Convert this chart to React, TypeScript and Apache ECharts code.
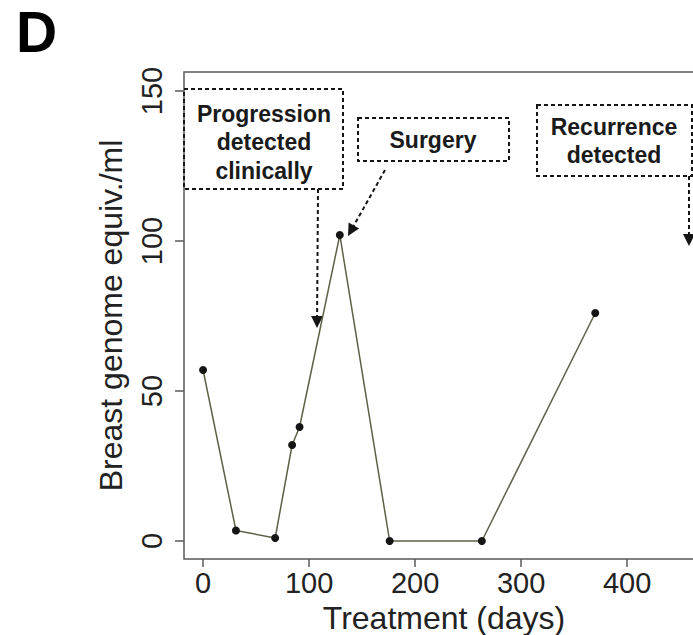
import React, { useEffect, useRef } from "react";
import * as echarts from "echarts";

const days = [0, 31, 68, 84, 91, 129, 176, 263, 370];
const genomeEquiv = [57, 3.5, 1, 32, 38, 102, 0, 0, 76];
const xTicks = [0, 100, 200, 300, 400];
const yTicks = [0, 50, 100, 150];
const xTitle = "Treatment (days)";
const yTitle = "Breast genome equiv./ml";
const panelLabel = "D";
const noteProgression = "Progression\ndetected\nclinically";
const noteSurgery = "Surgery";
const noteRecurrence = "Recurrence\ndetected";

const FONT = "'Liberation Sans', Arial, Helvetica, sans-serif";
const DASH = { stroke: "#151515", lineWidth: 2, lineDash: [4, 3], fill: null } as any;

function arrowHead(tip: [number, number], from: [number, number], len = 12, half = 6) {
  const dx = tip[0] - from[0];
  const dy = tip[1] - from[1];
  const l = Math.hypot(dx, dy);
  const ux = dx / l, uy = dy / l;
  const bx = tip[0] - ux * len, by = tip[1] - uy * len;
  const nx = -uy, ny = ux;
  return {
    type: "polygon",
    shape: { points: [tip, [bx + nx * half, by + ny * half], [bx - nx * half, by - ny * half]] },
    style: { fill: "#151515" },
  };
}

function arrow(from: [number, number], tip: [number, number]) {
  const dx = tip[0] - from[0];
  const dy = tip[1] - from[1];
  const l = Math.hypot(dx, dy);
  const end: [number, number] = [tip[0] - (dx / l) * 10, tip[1] - (dy / l) * 10];
  return [
    { type: "line", shape: { x1: from[0], y1: from[1], x2: end[0], y2: end[1] }, style: DASH },
    arrowHead(tip, from),
  ];
}

export default function App() {
  const ref = useRef<HTMLDivElement>(null);
  useEffect(() => {
    document.body.style.margin = "0";
    const chart = echarts.init(ref.current!, null, { renderer: "svg" });
    const noteText = (text: string, x: number, y: number) => ({
      type: "text",
      x,
      y,
      style: {
        text,
        fill: "#1a1a1a",
        fontSize: 23,
        fontWeight: "bold",
        fontFamily: FONT,
        align: "center",
        verticalAlign: "middle",
        lineHeight: 28.5,
      },
    });
    chart.setOption({
      animation: false,
      backgroundColor: "#ffffff",
      grid: {
        left: 184,
        top: 72,
        width: 520,
        height: 487,
        show: true,
        borderColor: "#5a5a5a",
        borderWidth: 1.5,
        backgroundColor: "transparent",
        containLabel: false,
        outerBoundsMode: "none",
      },
      xAxis: {
        type: "value",
        min: -18,
        max: -18 + 520 / 1.06,
        splitLine: { show: false },
        axisLine: { show: false, onZero: false },
        axisTick: { show: true, inside: false, customValues: xTicks, length: 8, lineStyle: { color: "#5a5a5a", width: 1.5 } },
        axisLabel: {
          customValues: xTicks,
          fontSize: 29,
          fontFamily: FONT,
          color: "#222",
          margin: 9,
        },
        name: xTitle,
        nameLocation: "middle",
        nameGap: 42,
        nameTextStyle: { fontSize: 32, fontFamily: FONT, color: "#222" },
      },
      yAxis: {
        type: "value",
        min: -6,
        max: -6 + 487 / 3,
        splitLine: { show: false },
        axisLine: { show: false, onZero: false },
        axisTick: { show: true, inside: false, customValues: yTicks, length: 9, lineStyle: { color: "#5a5a5a", width: 1.5 } },
        axisLabel: {
          customValues: yTicks,
          fontSize: 29,
          fontFamily: FONT,
          color: "#222",
          rotate: 90,
          margin: 18,
        },
        name: yTitle,
        nameLocation: "middle",
        nameRotate: 90,
        nameGap: 57,
        nameTextStyle: { fontSize: 32, fontFamily: FONT, color: "#222" },
      },
      series: [
        {
          type: "line",
          data: days.map((d, i) => [d, genomeEquiv[i]]),
          symbol: "circle",
          symbolSize: 8,
          itemStyle: { color: "#151515" },
          lineStyle: { color: "#606048", width: 1.5 },
          z: 3,
        },
      ],
      graphic: [
        {
          type: "text",
          x: 16,
          y: 32,
          style: {
            text: panelLabel,
            fill: "#000",
            fontSize: 57,
            fontWeight: "bold",
            fontFamily: FONT,
            align: "left",
            verticalAlign: "middle",
            lineHeight: 52,
          },
        },
        { type: "rect", shape: { x: 184, y: 89, width: 159, height: 100 }, style: DASH, z: 10 },
        noteText(noteProgression, 264, 142),
        ...arrow([318, 189], [317, 328]),
        { type: "rect", shape: { x: 358, y: 118, width: 151, height: 43 }, style: DASH, z: 10 },
        noteText(noteSurgery, 433, 140),
        ...arrow([385, 170], [348, 236]),
        { type: "rect", shape: { x: 537, y: 105, width: 155, height: 71 }, style: DASH, z: 10 },
        noteText(noteRecurrence, 614, 141),
        ...arrow([689, 176], [689, 246]),
      ],
    });
    return () => chart.dispose();
  }, []);
  return <div ref={ref} style={{ width: 693, height: 635 }} />;
}
